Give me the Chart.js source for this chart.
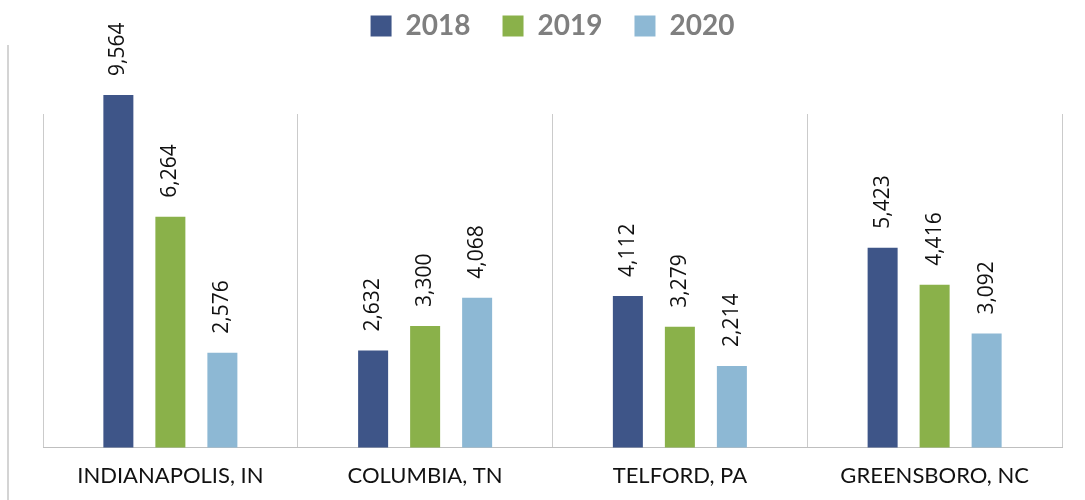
<!DOCTYPE html>
<html>
<head>
<meta charset="utf-8">
<script src="https://cdn.jsdelivr.net/npm/chart.js@4.4.1/dist/chart.umd.min.js"></script>
<style>
  html, body { margin: 0; padding: 0; background: #ffffff; overflow: hidden; }
  #wrap { position: relative; width: 1085px; height: 500px; overflow: hidden; }
  #frame { position: absolute; left: 7px; top: 45px; width: 0; height: 455px; border-left: 2px solid #d4d4d4; }
  #cv { position: absolute; left: 0; top: -20px; }
</style>
</head>
<body>
<div id="wrap">
  <div id="frame"></div>
  <canvas id="cv" width="1085" height="540"></canvas>
</div>
<script>
const categories = ['INDIANAPOLIS, IN', 'COLUMBIA, TN', 'TELFORD, PA', 'GREENSBORO, NC'];
const seriesNames = ['2018', '2019', '2020'];
const values2018 = [9564, 2632, 4112, 5423];
const values2019 = [6264, 3300, 3279, 4416];
const values2020 = [2576, 4068, 2214, 3092];
const seriesColors = ['#3E5588', '#8AB14A', '#8DB8D4'];

const legendGap = {
  id: 'legendGap',
  beforeLayout(chart) {
    const lg = chart.legend;
    if (lg && !lg._gapPatched) {
      const orig = lg.fit;
      lg.fit = function () { orig.call(this); this.height += 64; };
      lg._gapPatched = true;
    }
  }
};

const valueLabels = {
  id: 'valueLabels',
  afterDatasetsDraw(chart) {
    const ctx = chart.ctx;
    ctx.save();
    ctx.font = '21px "Open Sans"';
    ctx.fillStyle = '#111111';
    ctx.textAlign = 'left';
    ctx.textBaseline = 'middle';
    chart.data.datasets.forEach((ds, di) => {
      const meta = chart.getDatasetMeta(di);
      meta.data.forEach((bar, i) => {
        const txt = ds.data[i].toLocaleString('en-US');
        ctx.save();
        ctx.translate(bar.x, bar.y - 19);
        ctx.rotate(-Math.PI / 2);
        ctx.fillText(txt, 0, 0);
        ctx.restore();
      });
    });
    ctx.restore();
  }
};

const allSeries = [values2018, values2019, values2020];

new Chart(document.getElementById('cv'), {
  type: 'bar',
  data: {
    labels: categories,
    datasets: allSeries.map((vals, k) => ({
      label: seriesNames[k],
      data: vals,
      backgroundColor: seriesColors[k],
      borderWidth: 0,
      categoryPercentage: 0.6124,
      barPercentage: 0.577,
      clip: false
    }))
  },
  options: {
    responsive: false,
    animation: false,
    devicePixelRatio: 1,
    layout: { padding: { top: 0, left: 43, right: 23, bottom: 16 } },
    plugins: {
      tooltip: { enabled: false },
      legend: {
        position: 'top',
        labels: {
          boxWidth: 21,
          boxHeight: 21,
          padding: 32,
          color: '#7f7f7f',
          font: { family: 'Lato', size: 28, weight: 'bold' }
        }
      }
    },
    scales: {
      x: {
        grid: { offset: true, color: '#cbcbcb', lineWidth: 1, drawTicks: false },
        border: { display: true, color: '#bfbfbf', width: 1 },
        ticks: {
          color: '#111111',
          padding: 15,
          font: { family: 'Lato', size: 22 }
        }
      },
      y: {
        display: false,
        min: 0,
        max: 9050,
        grid: { display: false }
      }
    }
  },
  plugins: [legendGap, valueLabels]
});
</script>
</body>
</html>
